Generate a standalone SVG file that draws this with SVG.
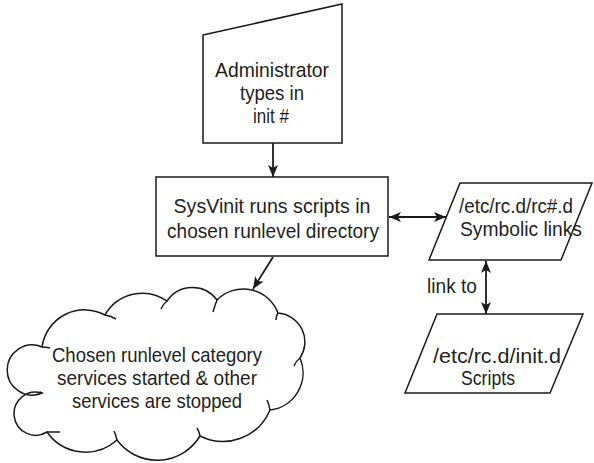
<svg xmlns="http://www.w3.org/2000/svg" width="594" height="463" viewBox="0 0 594 463">
<style>
.s{fill:#fff;stroke:#1a1a1a;stroke-width:1.5;stroke-linejoin:miter}
.k{fill:none;stroke:#1a1a1a;stroke-width:1.5}
.t{font-family:"Liberation Sans",Arial,sans-serif;font-size:21px;fill:#231f20;text-anchor:middle}
.c{stroke:#1a1a1a;stroke-width:1.8;fill:none}
</style>
<defs>
<marker id="ah" viewBox="0 0 12 10" refX="12" refY="5" markerWidth="12" markerHeight="10" markerUnits="userSpaceOnUse" orient="auto-start-reverse">
<path d="M0,0 L12,5 L0,10 L3,5 Z" fill="#1a1a1a"/>
</marker>
</defs>
<rect width="594" height="463" fill="#fff"/>
<g id="admin">
<polygon class="s" points="203,35 342,4 342,143 203,143"/>
<text class="t" x="272" y="77" textLength="114" lengthAdjust="spacingAndGlyphs">Administrator</text>
<text class="t" x="272" y="100" textLength="64" lengthAdjust="spacingAndGlyphs">types in</text>
<text class="t" x="271" y="123" textLength="36" lengthAdjust="spacingAndGlyphs">init #</text>
</g>
<g id="sysvinit">
<rect class="s" x="156" y="177" width="232" height="79"/>
<text class="t" x="272" y="213" textLength="197" lengthAdjust="spacingAndGlyphs">SysVinit runs scripts in</text>
<text class="t" x="273" y="238" textLength="212" lengthAdjust="spacingAndGlyphs">chosen runlevel directory</text>
</g>
<g id="rcd">
<polygon class="s" points="460,183 592,183 561,260 429,260"/>
<text class="t" x="516" y="213" textLength="114" lengthAdjust="spacingAndGlyphs">/etc/rc.d/rc#.d</text>
<text class="t" x="521" y="236" textLength="122" lengthAdjust="spacingAndGlyphs">Symbolic links</text>
</g>
<g id="initd">
<polygon class="s" points="437,314 583,314 550,393 405,393"/>
<text class="t" x="497" y="363" textLength="128" lengthAdjust="spacingAndGlyphs">/etc/rc.d/init.d</text>
<text class="t" x="488" y="385" textLength="54" lengthAdjust="spacingAndGlyphs">Scripts</text>
</g>
<g id="cloud">
<path class="s" d="M42,347 A43,43 0 0 1 105,315 A43,43 0 0 1 167,301 A30.5,30.5 0 0 1 217,300 A37,37 0 0 1 278,313 A29,29 0 0 1 300,358 A37.5,37.5 0 0 1 270,410 A51,51 0 0 1 200,436 A50,50 0 0 1 117,440 A47,47 0 0 1 47,432 A21.6,21.6 0 1 1 42,393 A25,25 0 1 1 42,347 Z"/>
<path class="k" d="M105,315 q6,1 11,4 M167,301 q-4,3 -6,8 M217,300 q-2,5 -4,12 M278,313 q-2,3 -2,7 M300,358 q-4,3 -6,8 M270,410 q-1,-6 -3,-10 M200,436 q-1,-5 -3,-8 M117,440 q-1,-5 -3,-9 M47,432 q6,0 13,0 M42,393 q-2,-1 -1,-1 M42,347 q4,0 8,1"/>
<text class="t" x="157" y="362" textLength="210" lengthAdjust="spacingAndGlyphs">Chosen runlevel category</text>
<text class="t" x="157" y="385" textLength="200" lengthAdjust="spacingAndGlyphs">services started &amp; other</text>
<text class="t" x="157" y="408" textLength="170" lengthAdjust="spacingAndGlyphs">services are stopped</text>
</g>
<g id="connectors">
<line class="c" x1="273" y1="143" x2="273" y2="177" marker-end="url(#ah)"/>
<line class="c" x1="389" y1="217" x2="446" y2="217" marker-start="url(#ah)" marker-end="url(#ah)"/>
<line class="c" x1="486" y1="261" x2="486" y2="314" marker-start="url(#ah)" marker-end="url(#ah)"/>
<line class="c" x1="273" y1="257" x2="253" y2="289" marker-end="url(#ah)"/>
<text class="t" x="452" y="293" textLength="50" lengthAdjust="spacingAndGlyphs">link to</text>
</g>
</svg>
